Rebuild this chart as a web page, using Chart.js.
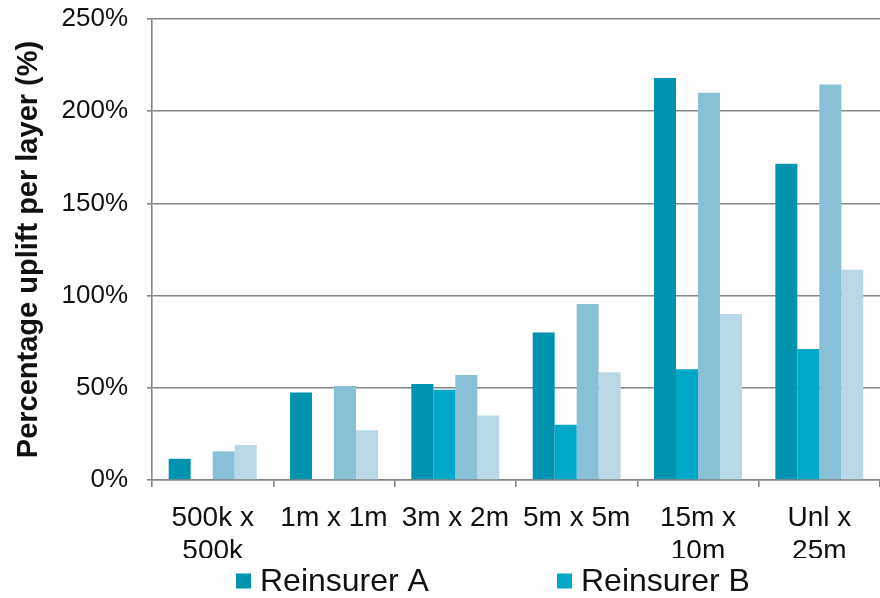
<!DOCTYPE html>
<html>
<head>
<meta charset="utf-8">
<script src="https://cdn.jsdelivr.net/npm/chart.js@4/dist/chart.umd.min.js"></script>
<style>
  html, body { margin: 0; padding: 0; background: #ffffff; }
  #wrap { width: 880px; height: 598px; }
</style>
</head>
<body>
<div id="wrap"><canvas id="c" width="880" height="598"></canvas></div>
<script>
// Layers (limit x excess) and uplift per reinsurer, in percent
const categories = [["500k x", "500k"], "1m x 1m", "3m x 2m", "5m x 5m", ["15m x", "10m"], ["Unl x", "25m"]];
const reinsurerA = [11.5, 47.5, 52, 80, 218, 171.5];
const reinsurerB = [0, 0, 49, 30, 60, 71];
const reinsurerC = [15.5, 51, 57, 95.5, 210, 214.5];
const reinsurerD = [19, 27, 35, 58.5, 90, 114];
const seriesNames = ["Reinsurer A", "Reinsurer B", "Reinsurer C", "Reinsurer D"];
const seriesColors = ["#0093b0", "#00a8c7", "#88c0d6", "#b7d8e4"];
const yTickValues = [0, 50, 100, 150, 200, 250];
const legendShown = 2; // only the first row of the legend fits

const FONT = "'Liberation Sans', Arial, sans-serif";
const AXIS_GREY = "#858585";

// Legend row drawn under the axis labels
const legendRow = {
  id: "legendRow",
  afterDraw(chart, args, opts) {
    const ctx = chart.ctx;
    ctx.save();
    ctx.font = opts.fontSize + "px " + FONT;
    ctx.textBaseline = "middle";
    ctx.textAlign = "left";
    chart.data.datasets.slice(0, legendShown).forEach((ds, i) => {
      const x = opts.starts[i];
      ctx.fillStyle = ds.backgroundColor;
      ctx.fillRect(x, opts.y - opts.box / 2, opts.box, opts.box);
      ctx.fillStyle = "#111111";
      ctx.fillText(ds.label, x + opts.box + opts.gap, opts.y + 1);
    });
    ctx.restore();
  }
};

const series = [reinsurerA, reinsurerB, reinsurerC, reinsurerD];

new Chart(document.getElementById("c"), {
  type: "bar",
  data: {
    labels: categories,
    datasets: series.map((vals, i) => ({
      label: seriesNames[i],
      data: vals,
      backgroundColor: seriesColors[i],
      borderWidth: 0,
      categoryPercentage: 0.725,
      barPercentage: 1.0
    }))
  },
  options: {
    responsive: false,
    animation: false,
    devicePixelRatio: 1,
    layout: { padding: { top: 19, right: 0, bottom: 40, left: 0 } },
    plugins: {
      legend: { display: false },
      tooltip: { enabled: false },
      legendRow: { starts: [236, 557], y: 581, box: 15, gap: 9, fontSize: 32 }
    },
    scales: {
      x: {
        offset: true,
        grid: {
          display: true,
          drawOnChartArea: false,
          drawTicks: true,
          tickLength: 7,
          color: AXIS_GREY,
          lineWidth: 1.6
        },
        border: { display: true, color: AXIS_GREY, width: 1.6 },
        ticks: {
          color: "#111111",
          font: { family: FONT, size: 28 },
          padding: 14,
          maxRotation: 0,
          autoSkip: false
        },
        afterFit(scale) {
          scale.height = 78;
          scale.paddingLeft = 0;
          scale.paddingRight = 0;
        }
      },
      y: {
        min: 0,
        max: 250,
        afterBuildTicks(scale) { scale.ticks = yTickValues.map(v => ({ value: v })); },
        grid: {
          color: AXIS_GREY,
          lineWidth: 1.6,
          drawTicks: true,
          tickLength: 5
        },
        border: { display: true, color: AXIS_GREY, width: 1.6 },
        ticks: {
          color: "#111111",
          font: { family: FONT, size: 26 },
          padding: 19,
          callback: v => v + "%"
        },
        title: {
          display: true,
          text: "Percentage uplift per layer (%)",
          color: "#111111",
          font: { family: FONT, size: 29, weight: "bold" },
          padding: { top: 12, bottom: 0 }
        },
        afterFit(scale) {
          scale.width = 152;
          scale.paddingTop = 0;
          scale.paddingBottom = 0;
        }
      }
    }
  },
  plugins: [legendRow]
});
</script>
</body>
</html>
